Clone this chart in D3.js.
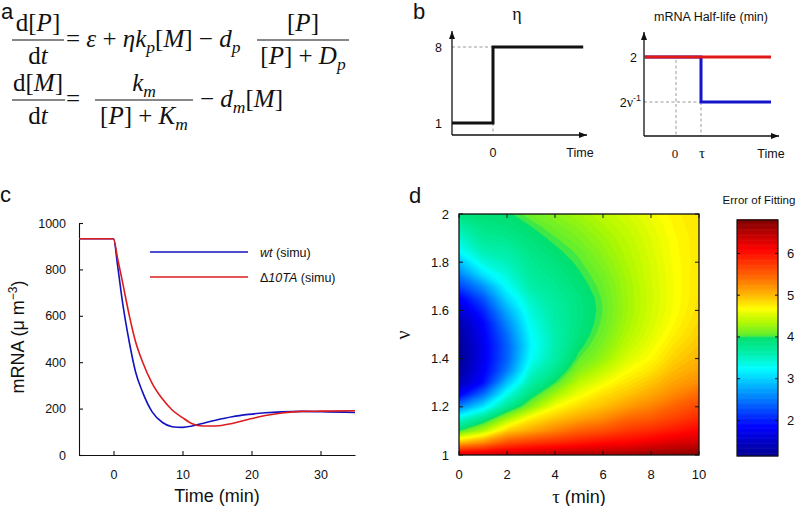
<!DOCTYPE html>
<html><head><meta charset="utf-8">
<script src="https://cdn.jsdelivr.net/npm/d3@7"></script>
<style>body{margin:0;background:#fff} svg{display:block}</style>
</head><body><svg id="fig" width="800" height="506"></svg>
<script>
// ================= DATA =================
// panel c : simulated mRNA (µm^-3) vs time (min)
const timeMin   = [-5, 0, 0.6, 1.3, 2.3, 3.2, 4.2, 5.6, 7.1, 8.5, 10, 11.4, 12.9, 14.8, 17.2, 19.6, 22, 24.4, 27.3, 30.2, 35];
const wtSimu    = [932, 932, 815, 660, 485, 358, 272, 186, 140, 122, 119, 125, 136, 150, 165, 175, 182, 186, 188, 187, 183];
const d10taSimu = [932, 932, 846, 746, 600, 488, 402, 309, 241, 194, 161, 135, 125, 125, 136, 154, 170, 181, 188, 189, 191];
const timeTicks = [0, 10, 20, 30];
const mrnaTicks = [0, 200, 400, 600, 800, 1000];
const seriesNames = ["wt", "Δ10TA"];

// panel b : schematics
const etaTime  = [-1, 0, 0, 2.2];
const etaVal   = [1, 1, 8, 8];
const etaTicks = [1, 8];
const hlTime   = [-1.25, 1, 1, 3.8];
const hlWt     = [2, 2, 1.25, 1.25];
const hlMut    = [2, 2, 2, 2];

// panel d : error of fitting, rows nu = 2.0 ... 1.0, columns tau = 0 ... 10
const tauVals = [0, 1, 2, 3, 4, 5, 6, 7, 8, 9, 10];
const nuVals  = [2.0, 1.95, 1.9, 1.85, 1.8, 1.75, 1.7, 1.65, 1.6, 1.55, 1.5, 1.45, 1.4, 1.35, 1.3, 1.25, 1.2, 1.15, 1.1, 1.05, 1.0];
const errorGrid = [
  [3.9, 3.95, 3.97, 4.1, 4.2, 4.3, 4.4, 4.5, 4.62, 4.73, 4.8],
  [3.65, 3.85, 3.9, 4.0, 4.12, 4.22, 4.34, 4.45, 4.58, 4.71, 4.8],
  [3.45, 3.75, 3.8, 3.92, 4.04, 4.15, 4.28, 4.41, 4.55, 4.69, 4.79],
  [3.27, 3.6, 3.67, 3.85, 3.97, 4.08, 4.23, 4.38, 4.53, 4.68, 4.79],
  [2.9, 3.4, 3.55, 3.78, 3.9, 4.03, 4.18, 4.35, 4.51, 4.67, 4.79],
  [2.56, 3.1, 3.42, 3.72, 3.84, 3.98, 4.13, 4.32, 4.5, 4.66, 4.8],
  [2.2, 2.65, 3.27, 3.65, 3.78, 3.93, 4.09, 4.3, 4.49, 4.66, 4.8],
  [1.8, 2.3, 3.05, 3.52, 3.72, 3.88, 4.06, 4.29, 4.48, 4.66, 4.81],
  [1.55, 2.05, 2.8, 3.42, 3.68, 3.86, 4.05, 4.29, 4.49, 4.67, 4.83],
  [1.35, 1.85, 2.6, 3.33, 3.65, 3.87, 4.07, 4.31, 4.51, 4.7, 4.86],
  [1.25, 1.78, 2.45, 3.25, 3.62, 3.9, 4.11, 4.35, 4.55, 4.75, 4.9],
  [1.17, 1.74, 2.36, 3.2, 3.62, 3.96, 4.17, 4.42, 4.62, 4.82, 4.96],
  [1.16, 1.74, 2.38, 3.27, 3.66, 4.05, 4.25, 4.52, 4.69, 4.9, 5.03],
  [1.25, 1.78, 2.52, 3.45, 3.8, 4.2, 4.42, 4.66, 4.8, 5.0, 5.12],
  [1.4, 1.9, 2.9, 3.65, 4.0, 4.4, 4.62, 4.8, 4.95, 5.12, 5.25],
  [1.8, 2.45, 3.35, 3.9, 4.3, 4.62, 4.82, 4.95, 5.1, 5.28, 5.45],
  [2.56, 3.1, 3.75, 4.2, 4.65, 4.85, 4.98, 5.15, 5.3, 5.5, 5.65],
  [3.4, 3.8, 4.3, 4.75, 4.95, 5.1, 5.25, 5.45, 5.55, 5.7, 5.85],
  [4.0, 4.35, 4.9, 5.1, 5.3, 5.5, 5.6, 5.75, 5.85, 5.97, 6.1],
  [5.0, 5.25, 5.6, 5.75, 5.85, 5.95, 6.05, 6.1, 6.2, 6.3, 6.35],
  [6.3, 6.35, 6.4, 6.45, 6.5, 6.55, 6.55, 6.6, 6.65, 6.7, 6.75]
];
const tauTicks = [0, 2, 4, 6, 8, 10];
const nuTicks  = [1, 1.2, 1.4, 1.6, 1.8, 2];
const cbTicks  = [2, 3, 4, 5, 6];
const cbRange  = [1.15, 6.8];
const cmapVals = [1.15, 1.85, 2.55, 3.25, 3.6, 3.98, 4.05, 4.35, 4.68, 5.05, 5.4, 6.1, 6.8];
const cmapCols = ["#00008f", "#0000ff", "#0080ff", "#00ffff", "#00f0b0", "#00e070", "#60ee30", "#b0f800", "#ffff00", "#ffb000", "#ff7000", "#ff0000", "#800000"];

// ================= DRAW =================
const SANS = '"Liberation Sans", Arial, sans-serif';
const SERIF = '"Liberation Serif", "Times New Roman", serif';
const svg = d3.select("#fig");
svg.append("rect").attr("width", 800).attr("height", 506).attr("fill", "#fff");

// panel letters
[["a", 1, 19], ["b", 413, 19], ["c", 0, 202], ["d", 409, 203]].forEach(([t, x, y]) =>
  svg.append("text").attr("x", x).attr("y", y).attr("font-family", SANS)
     .attr("font-size", 22).attr("fill", "#111").text(t));

// ---------- panel a : equations ----------
function mathText(g, x, y, parts, size, anchor) {
  const t = g.append("text").attr("x", x).attr("y", y)
    .attr("font-family", SERIF).attr("font-size", size).attr("fill", "#111")
    .attr("text-anchor", anchor || "start");
  let shift = 0;
  parts.forEach(p => {
    const s = typeof p === "string" ? {t: p} : p;
    const target = s.sub ? size * 0.25 : (s.sup ? -size * 0.4 : 0);
    const ts = t.append("tspan").text(s.t).attr("dy", target - shift);
    shift = target;
    if (s.it) ts.attr("font-style", "italic");
    if (s.sub || s.sup) ts.attr("font-size", size * 0.7);
  });
  return t;
}
const ga = svg.append("g");
const FS = 25;
function frac(cx, x1, x2, yBar, num, den) {
  mathText(ga, cx, yBar - 9, num, FS, "middle");
  ga.append("line").attr("x1", x1).attr("x2", x2).attr("y1", yBar).attr("y2", yBar)
    .attr("stroke", "#111").attr("stroke-width", 1);
  mathText(ga, cx, yBar + 24, den, FS, "middle");
}
// line 1
const bar1 = 40, bar2 = 100;
frac(38, 12, 64, bar1, ["d[", {t: "P", it: 1}, "]"], ["d", {t: "t", it: 1}]);
mathText(ga, 66, bar1 + 6.5, ["= ", {t: "ε", it: 1}, " + ", {t: "η", it: 1}, {t: "k", it: 1}, {t: "p", it: 1, sub: 1},
  "[", {t: "M", it: 1}, "] − ", {t: "d", it: 1}, {t: "p", it: 1, sub: 1}], FS);
frac(303, 257, 349, bar1, ["[", {t: "P", it: 1}, "]"], ["[", {t: "P", it: 1}, "] + ", {t: "D", it: 1}, {t: "p", it: 1, sub: 1}]);
// line 2
frac(38, 12, 65, bar2, ["d[", {t: "M", it: 1}, "]"], ["d", {t: "t", it: 1}]);
mathText(ga, 66, bar2 + 6.5, ["="], FS);
frac(144, 95, 193, bar2, [{t: "k", it: 1}, {t: "m", it: 1, sub: 1}], ["[", {t: "P", it: 1}, "] + ", {t: "K", it: 1}, {t: "m", it: 1, sub: 1}]);
mathText(ga, 200, bar2 + 6.5, ["− ", {t: "d", it: 1}, {t: "m", it: 1, sub: 1}, "[", {t: "M", it: 1}, "]"], FS);

// ---------- panel b ----------
const gb = svg.append("g");
function arrowAxis(g, x0, y0, x1, y1) {
  g.append("line").attr("x1", x0).attr("y1", y0).attr("x2", x1).attr("y2", y1)
    .attr("stroke", "#111").attr("stroke-width", 1.3);
  const ang = Math.atan2(y1 - y0, x1 - x0);
  const L = 8, W = 3;
  const p = [[x1, y1],
    [x1 - L * Math.cos(ang) + W * Math.sin(ang), y1 - L * Math.sin(ang) - W * Math.cos(ang)],
    [x1 - L * Math.cos(ang) - W * Math.sin(ang), y1 - L * Math.sin(ang) + W * Math.cos(ang)]];
  g.append("path").attr("d", d3.line()(p) + "Z").attr("fill", "#111");
}
function dash(g, x1, y1, x2, y2) {
  g.append("line").attr("x1", x1).attr("y1", y1).attr("x2", x2).attr("y2", y2)
    .attr("stroke", "#999").attr("stroke-width", 1).attr("stroke-dasharray", "3,2.5");
}
// left schematic (eta)
const xe = d3.scaleLinear().domain([-1, 0]).range([452, 493]);
const ye = d3.scaleLinear().domain([1, 8]).range([123, 47]);
const yAx1 = 135;
dash(gb, xe(-1), ye(8), xe(0), ye(8));
dash(gb, xe(0), ye(1), xe(0), yAx1);
gb.append("path").attr("d", d3.line().x((d, i) => xe(etaTime[i])).y(d => ye(d))(etaVal))
  .attr("fill", "none").attr("stroke", "#111").attr("stroke-width", 3);
arrowAxis(gb, xe(-1), yAx1, xe(-1), 31);
arrowAxis(gb, xe(-1), yAx1, 587, yAx1);
etaTicks.forEach(v => gb.append("text").attr("x", 442).attr("y", ye(v) + 4.5).attr("text-anchor", "end")
  .attr("font-family", SANS).attr("font-size", 12.5).attr("fill", "#111").text(v));
gb.append("text").attr("x", xe(0)).attr("y", 157).attr("text-anchor", "middle")
  .attr("font-family", SANS).attr("font-size", 12.5).attr("fill", "#111").text("0");
gb.append("text").attr("x", 580).attr("y", 157).attr("text-anchor", "middle")
  .attr("font-family", SANS).attr("font-size", 12.5).attr("fill", "#111").text("Time");
gb.append("text").attr("x", 517).attr("y", 20).attr("text-anchor", "middle")
  .attr("font-family", SERIF).attr("font-size", 18).attr("fill", "#111").text("η");

// right schematic (half-life)
const xh = d3.scaleLinear().domain([0, 1]).range([676, 701]);
const yh = d3.scaleLinear().domain([1.25, 2]).range([102, 57]);
const yAx2 = 136, xAx2 = 644;
dash(gb, xh(0), yh(2) + 3, xh(0), yAx2);
dash(gb, xh(1), yh(1.25), xh(1), yAx2);
dash(gb, xAx2, yh(1.25), xh(1), yh(1.25));
const lineH = d3.line().x((d, i) => xh(hlTime[i])).y(d => yh(d));
gb.append("path").attr("d", lineH(hlWt)).attr("fill", "none").attr("stroke", "#1414c8").attr("stroke-width", 3);
gb.append("path").attr("d", lineH(hlMut)).attr("fill", "none").attr("stroke", "#e01818").attr("stroke-width", 3);
arrowAxis(gb, xAx2, yAx2, xAx2, 32);
arrowAxis(gb, xAx2, yAx2, 779, yAx2);
gb.append("text").attr("x", 637).attr("y", yh(2) + 4.5).attr("text-anchor", "end")
  .attr("font-family", SANS).attr("font-size", 12.5).attr("fill", "#111").text("2");
const lab = gb.append("text").attr("x", 641).attr("y", yh(1.25) + 5).attr("text-anchor", "end")
  .attr("font-family", SANS).attr("font-size", 12.5).attr("fill", "#111");
lab.append("tspan").text("2");
lab.append("tspan").attr("font-family", SERIF).attr("font-size", 14).text("ν");
lab.append("tspan").attr("dy", -6).attr("font-size", 9).text("-1");
gb.append("text").attr("x", xh(0) - 1).attr("y", 158).attr("text-anchor", "middle")
  .attr("font-family", SERIF).attr("font-size", 13).attr("fill", "#111").text("0");
gb.append("text").attr("x", xh(1) + 1).attr("y", 158).attr("text-anchor", "middle")
  .attr("font-family", SERIF).attr("font-size", 15).attr("fill", "#111").text("τ");
gb.append("text").attr("x", 771).attr("y", 158).attr("text-anchor", "middle")
  .attr("font-family", SANS).attr("font-size", 12.5).attr("fill", "#111").text("Time");
gb.append("text").attr("x", 711).attr("y", 21).attr("text-anchor", "middle")
  .attr("font-family", SANS).attr("font-size", 12.5).attr("fill", "#111").text("mRNA Half-life (min)");

// ---------- panel c ----------
const gc = svg.append("g");
const xc = d3.scaleLinear().domain([-5, 35]).range([79, 355]);
const yc = d3.scaleLinear().domain([0, 1000]).range([455, 223]);
const axC = gc.append("g").attr("transform", `translate(0,${yc(0)})`)
  .call(d3.axisBottom(xc).tickValues(timeTicks).tickFormat(d3.format("d")).tickSize(-4).tickPadding(15).tickSizeOuter(0));
const ayC = gc.append("g").attr("transform", `translate(${xc(-5)},0)`)
  .call(d3.axisLeft(yc).tickValues(mrnaTicks).tickFormat(d3.format("d")).tickSize(-4).tickPadding(13).tickSizeOuter(0));
[axC, ayC].forEach(a => {
  a.selectAll("text").attr("font-family", SANS).attr("font-size", 12.5).attr("fill", "#111");
  a.selectAll("line,path").attr("stroke", "#111").attr("stroke-width", 1.1);
});
const lineC = d3.line().x((d, i) => xc(timeMin[i])).y(d => yc(d)).curve(d3.curveMonotoneX);
const colC = ["#1212c0", "#dc1c1c"];
[wtSimu, d10taSimu].forEach((s, k) =>
  gc.append("path").attr("d", lineC(s)).attr("fill", "none").attr("stroke", colC[k]).attr("stroke-width", 1.6));
// legend
[0, 1].forEach(k => {
  const y = 252 + k * 25;
  gc.append("line").attr("x1", 150).attr("x2", 248).attr("y1", y).attr("y2", y)
    .attr("stroke", colC[k]).attr("stroke-width", 1.6);
  const t = gc.append("text").attr("x", 260).attr("y", y + 4.5).attr("font-family", SANS)
    .attr("font-size", 12.5).attr("fill", "#111");
  if (k === 1) { t.append("tspan").text("Δ"); t.append("tspan").attr("font-style", "italic").text("10TA"); }
  else t.append("tspan").attr("font-style", "italic").text(seriesNames[0]);
  t.append("tspan").text(" (simu)");
});
gc.append("text").attr("x", xc(15)).attr("y", 502).attr("text-anchor", "middle")
  .attr("font-family", SANS).attr("font-size", 18).attr("fill", "#111").text("Time (min)");
const yl = gc.append("text").attr("transform", "translate(24,337) rotate(-90)").attr("text-anchor", "middle")
  .attr("font-family", SANS).attr("font-size", 18).attr("fill", "#111");
yl.append("tspan").text("mRNA (μ m");
yl.append("tspan").attr("dy", -7).attr("font-size", 12).text("−3");
yl.append("tspan").attr("dy", 7).text(")");

// ---------- panel d ----------
const gd = svg.append("g");
const xd = d3.scaleLinear().domain([0, 10]).range([459, 699]);
const yd = d3.scaleLinear().domain([1, 2]).range([455, 214]);
const cmap = d3.scaleLinear().domain(cmapVals).range(cmapCols).clamp(true);
gd.append("clipPath").attr("id", "clipD").append("rect")
  .attr("x", xd(0)).attr("y", yd(2)).attr("width", xd(10) - xd(0)).attr("height", yd(1) - yd(2));
const step = 0.05;
const thresholds = d3.range(1.1, 6.86, step);
const contours = d3.contours().size([tauVals.length, nuVals.length]).thresholds(thresholds)(errorGrid.flat());
const dTau = tauVals[1] - tauVals[0], dNu = nuVals[1] - nuVals[0];
const proj = d3.geoTransform({point: function (x, y) {
  this.stream.point(xd(tauVals[0] + (x - 0.5) * dTau), yd(nuVals[0] + (y - 0.5) * dNu));
}});
const path = d3.geoPath(proj);
gd.append("g").attr("clip-path", "url(#clipD)").selectAll("path").data(contours).join("path")
  .attr("d", path).attr("fill", d => cmap(d.value + step / 2)).attr("stroke", d => cmap(d.value + step / 2))
  .attr("stroke-width", 0.5);
gd.append("rect").attr("x", xd(0)).attr("y", yd(2)).attr("width", xd(10) - xd(0)).attr("height", yd(1) - yd(2))
  .attr("fill", "none").attr("stroke", "#111").attr("stroke-width", 1.3);
const fmt = d3.format("~g");
tauTicks.forEach(v => {
  gd.append("line").attr("x1", xd(v)).attr("x2", xd(v)).attr("y1", yd(1)).attr("y2", yd(1) - 4).attr("stroke", "#111");
  gd.append("line").attr("x1", xd(v)).attr("x2", xd(v)).attr("y1", yd(2)).attr("y2", yd(2) + 4).attr("stroke", "#111");
  gd.append("text").attr("x", xd(v)).attr("y", 479).attr("text-anchor", "middle").attr("font-family", SANS)
    .attr("font-size", 13).attr("fill", "#111").text(fmt(v));
});
nuTicks.forEach(v => {
  gd.append("line").attr("x1", xd(0)).attr("x2", xd(0) + 4).attr("y1", yd(v)).attr("y2", yd(v)).attr("stroke", "#111");
  gd.append("line").attr("x1", xd(10)).attr("x2", xd(10) - 4).attr("y1", yd(v)).attr("y2", yd(v)).attr("stroke", "#111");
  gd.append("text").attr("x", 449).attr("y", yd(v) + 4.5).attr("text-anchor", "end").attr("font-family", SANS)
    .attr("font-size", 13).attr("fill", "#111").text(fmt(v));
});
const xl = gd.append("text").attr("x", 579).attr("y", 503).attr("text-anchor", "middle")
  .attr("font-family", SANS).attr("font-size", 18).attr("fill", "#111");
xl.append("tspan").attr("font-family", SERIF).attr("font-size", 19).text("τ");
xl.append("tspan").text(" (min)");
gd.append("text").attr("transform", "translate(410,335) rotate(-90)").attr("text-anchor", "middle")
  .attr("font-family", SERIF).attr("font-size", 20).attr("fill", "#111").text("ν");

// colorbar
const cbX = 737, cbW = 41;
const yCb = d3.scaleLinear().domain(cbRange).range([456, 220]);
const cbStep = 0.02;
gd.append("g").selectAll("rect").data(d3.range(cbRange[0], cbRange[1], cbStep)).join("rect")
  .attr("x", cbX).attr("width", cbW).attr("y", d => yCb(d + cbStep) - 0.3)
  .attr("height", d => yCb(d) - yCb(d + cbStep) + 0.6).attr("fill", d => cmap(d + cbStep / 2));
gd.append("rect").attr("x", cbX).attr("y", yCb(cbRange[1])).attr("width", cbW)
  .attr("height", yCb(cbRange[0]) - yCb(cbRange[1])).attr("fill", "none").attr("stroke", "#111").attr("stroke-width", 1.2);
cbTicks.forEach(v => {
  gd.append("line").attr("x1", cbX).attr("x2", cbX + 3).attr("y1", yCb(v)).attr("y2", yCb(v)).attr("stroke", "#111");
  gd.append("line").attr("x1", cbX + cbW).attr("x2", cbX + cbW - 3).attr("y1", yCb(v)).attr("y2", yCb(v)).attr("stroke", "#111");
  gd.append("text").attr("x", cbX + cbW + 9).attr("y", yCb(v) + 4.5).attr("font-family", SANS)
    .attr("font-size", 13).attr("fill", "#111").text(v);
});
gd.append("text").attr("x", 759).attr("y", 204).attr("text-anchor", "middle").attr("font-family", SANS)
  .attr("font-size", 11.5).attr("fill", "#111").text("Error of Fitting");
</script></body></html>
